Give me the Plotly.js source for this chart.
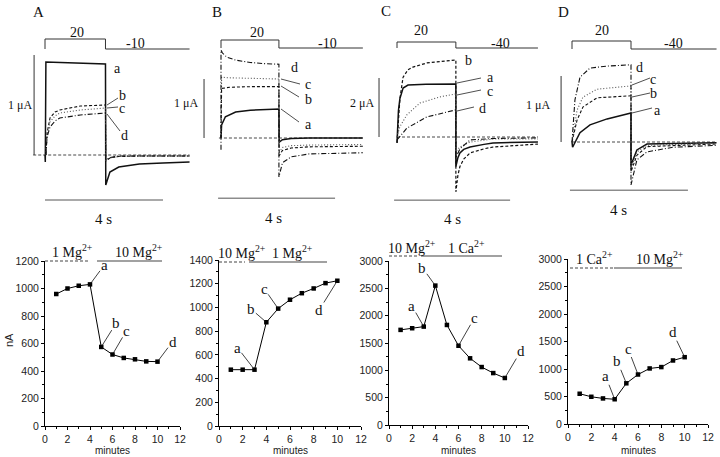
<!DOCTYPE html>
<html>
<head>
<meta charset="utf-8">
<script src="https://cdn.plot.ly/plotly-3.0.1.min.js"></script>
<style>
  html, body { margin: 0; padding: 0; background: #fff; }
  #chart { width: 720px; height: 457px; }
</style>
</head>
<body>
<div id="chart"></div>
<script>
// ---- bottom row: current amplitude (nA) vs time (minutes)
const minutes = [1, 2, 3, 4, 5, 6, 7, 8, 9, 10];
const ampA = [960, 1000, 1020, 1030, 575, 520, 495, 485, 470, 468];
const ampB = [475, 475, 475, 875, 990, 1065, 1120, 1160, 1205, 1225];
const ampC = [1740, 1770, 1800, 2550, 1830, 1450, 1220, 1060, 950, 860];
const ampD = [550, 495, 465, 450, 740, 900, 1010, 1035, 1155, 1215];

// minute at which traces a-d (top row) were taken
const pickA = [4, 5, 6, 10];
const pickB = [3, 4, 5, 10];
const pickC = [3, 4, 6, 10];
const pickD = [4, 5, 6, 10];

// ---- top row: current traces, t in s, I in uA
const A_a_t = [0, 0.01, 0.03, 0.5, 1.0, 1.5, 2.05, 2.06, 2.2, 2.5, 3.2, 4.0, 4.9];
const A_a_i = [0, -0.07, 0.93, 0.925, 0.92, 0.915, 0.91, -0.30, -0.17, -0.12, -0.09, -0.08, -0.07];
const A_bcd_t = [0.03, 0.07, 0.17, 0.34, 0.5, 1.2, 2.05, 2.06, 2.2, 2.5, 3.2, 4.9];
const A_b_i = [0, 0.22, 0.37, 0.43, 0.45, 0.49, 0.50, -0.06, -0.03, -0.015, -0.01, -0.01];
const A_c_i = [0, 0.20, 0.33, 0.39, 0.42, 0.45, 0.47, -0.05, -0.03, -0.015, -0.01, -0.01];
const A_d_i = [0, 0.18, 0.28, 0.34, 0.37, 0.40, 0.42, -0.05, -0.025, -0.01, -0.01, -0.01];

const B_a_t = [0, 0.02, 0.15, 0.5, 1.0, 1.5, 1.98, 1.99, 2.1, 2.4, 3.0, 4.85];
const B_a_i = [0, 0.22, 0.36, 0.44, 0.47, 0.48, 0.49, -0.07, -0.03, -0.01, 0, 0];
const B_bc_t = [0, 0.02, 0.3, 1.0, 1.98, 1.99, 2.1, 2.4, 3.0, 4.85];
const B_b_i = [0, 0.84, 0.86, 0.87, 0.87, -0.30, -0.21, -0.17, -0.15, -0.14];
const B_c_i = [0, 1.03, 1.02, 1.01, 1.00, -0.25, -0.16, -0.13, -0.12, -0.11];
const B_d_t = [0, 0, 0.05, 0.2, 0.5, 1.0, 1.5, 1.98, 1.98, 2.1, 2.4, 3.0, 4.85];
const B_d_i = [-0.2, 1.49, 1.44, 1.37, 1.32, 1.28, 1.26, 1.25, -0.66, -0.42, -0.32, -0.27, -0.25];

const C_a_t = [0, 0.05, 0.1, 0.21, 0.38, 1.0, 2.03, 2.03, 2.1, 2.17, 2.3, 2.52, 3.0, 3.31, 4.86];
const C_a_i = [-0.2, 0.9, 1.3, 1.66, 1.76, 1.79, 1.80, -1.0, -0.7, -0.54, -0.42, -0.34, -0.25, -0.2, -0.17];
const C_b_t = [0, 0.1, 0.21, 0.38, 0.55, 1.03, 2.03, 2.03, 2.1, 2.17, 2.3, 2.52, 3.0, 3.31, 4.86];
const C_b_i = [-0.2, 1.3, 2.03, 2.28, 2.37, 2.51, 2.61, -1.86, -1.3, -1.0, -0.75, -0.54, -0.40, -0.34, -0.24];
const C_c_t = [0, 0.1, 0.34, 0.79, 1.48, 2.03, 2.03, 2.17, 2.52, 3.31, 4.86];
const C_c_i = [0, 0.35, 0.75, 1.15, 1.36, 1.46, -0.5, -0.34, -0.17, -0.07, -0.07];
const C_d_t = [0, 0.34, 1.03, 2.03, 2.03, 2.17, 2.52, 3.31, 4.86];
const C_d_i = [-0.1, 0.3, 0.68, 0.92, -0.7, -0.4, -0.1, -0.05, -0.03];

const D_a_t = [0, 0.02, 0.27, 0.61, 1.19, 2.0, 2.0, 2.2, 2.54, 4.9];
const D_a_i = [0, -0.08, 0.14, 0.26, 0.35, 0.44, -0.35, -0.12, -0.03, -0.01];
const D_bc_t = [0, 0.17, 0.37, 0.85, 2.0, 2.0, 2.2, 2.54, 4.9];
const D_b_i = [0, 0.33, 0.53, 0.67, 0.7, -0.45, -0.2, -0.07, -0.03];
const D_c_i = [0, 0.48, 0.68, 0.8, 0.85, -0.4, -0.15, -0.05, -0.02];
const D_d_t = [0, 0.1, 0.27, 0.61, 1.19, 2.0, 2.0, 2.2, 2.54, 3.42, 4.9];
const D_d_i = [0, 0.64, 0.98, 1.12, 1.15, 1.17, -0.65, -0.27, -0.15, -0.08, -0.05];

// voltage protocols (mV)
const stepMv = 20;
const tailMv = [-10, -10, -40, -40];
const pulseEnd = [2.05, 1.98, 2.03, 2.0];
const sweepEnd = [4.9, 4.85, 4.86, 4.9];
const scaleUa = [1, 1, 2, 1];

const W = 720, H = 457;
const PX = (x) => x / W;
const PY = (y) => 1 - y / H;
const serif = "Liberation Serif, Times New Roman, serif";
const sans = "Liberation Sans, Arial, sans-serif";
const ink = "#111";

const layout = {
  width: W, height: H,
  margin: { l: 0, r: 0, t: 0, b: 0 },
  paper_bgcolor: "#fff",
  plot_bgcolor: "rgba(0,0,0,0)",
  showlegend: false,
  annotations: [],
  shapes: [],
};
const data = [];

const axName = (p, i) => p + "axis" + (i === 1 ? "" : i);
const axRef = (p, i) => p + (i === 1 ? "" : i);

// pixel geometry of each top panel
const topGeo = [
  { box: [10, 192], t0: 45, pxs: 29.5, zero: 155, pxu: 100, vTopPx: 39, vTailPx: 49,
    barT: -0.37, tbar: [0, 4], tbarI: -0.45, zeroFrom: -0.4 },
  { box: [185, 366], t0: 221, pxs: 29.25, zero: 138, pxu: 59, vTopPx: 40, vTailPx: 48,
    barT: -0.58, tbar: [-0.1, 3.9], tbarI: -1.02, zeroFrom: -0.07 },
  { box: [345, 540], t0: 397, pxs: 29, zero: 137, pxu: 29.5, vTopPx: 42, vTailPx: 48,
    barT: -0.62, tbar: [-0.1, 3.9], tbarI: -2.14, zeroFrom: 0 },
  { box: [520, 720], t0: 572, pxs: 29.5, zero: 142, pxu: 66, vTopPx: 41, vTailPx: 49,
    barT: -0.37, tbar: [-0.07, 3.93], tbarI: -0.73, zeroFrom: 0 },
];

const topTraces = [
  [
    { t: A_a_t, i: A_a_i, dash: "solid", w: 1.5, c: ink },
    { t: A_bcd_t, i: A_b_i, dash: "3px,2px", w: 1.1, c: ink },
    { t: A_bcd_t, i: A_c_i, dash: "1px,2px", w: 1.1, c: "#555" },
    { t: A_bcd_t, i: A_d_i, dash: "5px,2px,1px,2px", w: 1.1, c: ink },
  ],
  [
    { t: B_a_t, i: B_a_i, dash: "solid", w: 1.5, c: ink },
    { t: B_bc_t, i: B_b_i, dash: "3px,2px", w: 1.1, c: ink },
    { t: B_bc_t, i: B_c_i, dash: "1px,2px", w: 1.1, c: "#555" },
    { t: B_d_t, i: B_d_i, dash: "5px,2px,1px,2px", w: 1.1, c: ink },
  ],
  [
    { t: C_a_t, i: C_a_i, dash: "solid", w: 1.5, c: ink },
    { t: C_b_t, i: C_b_i, dash: "3px,2px", w: 1.2, c: ink },
    { t: C_c_t, i: C_c_i, dash: "1px,2px", w: 1.1, c: "#555" },
    { t: C_d_t, i: C_d_i, dash: "5px,2px,1px,2px", w: 1.1, c: ink },
  ],
  [
    { t: D_a_t, i: D_a_i, dash: "solid", w: 1.5, c: ink },
    { t: D_bc_t, i: D_b_i, dash: "3px,2px", w: 1.1, c: ink },
    { t: D_bc_t, i: D_c_i, dash: "1px,2px", w: 1.1, c: "#555" },
    { t: D_d_t, i: D_d_i, dash: "5px,2px,1px,2px", w: 1.1, c: ink },
  ],
];

topGeo.forEach((g, k) => {
  const xi = k + 1, yi = k + 1, vi = k + 5;
  const xr = axRef("x", xi), yr = axRef("y", yi), vr = axRef("y", vi);
  const toT = (p) => (p - g.t0) / g.pxs;
  const toI = (p) => (g.zero - p) / g.pxu;
  const toV = (p) => tailMv[k] + (p - g.vTailPx) * (stepMv - tailMv[k]) / (g.vTopPx - g.vTailPx);
  layout[axName("x", xi)] = { domain: [PX(g.box[0]), PX(g.box[1])], range: [toT(g.box[0]), toT(g.box[1])], visible: false, anchor: yr };
  layout[axName("y", yi)] = { domain: [PY(205), PY(45)], range: [toI(205), toI(45)], visible: false, anchor: xr };
  layout[axName("y", vi)] = { domain: [PY(56), PY(28)], range: [toV(56), toV(28)], visible: false, anchor: xr };

  const line = (x, y, ya, color, width, dash) => data.push({
    x, y, xaxis: xr, yaxis: ya, type: "scatter", mode: "lines", hoverinfo: "skip",
    line: { color, width, dash: dash || "solid" },
  });
  // protocol
  line([0, 0, pulseEnd[k], pulseEnd[k], sweepEnd[k]],
       [tailMv[k], stepMv, stepMv, tailMv[k], tailMv[k]], vr, "#333", 1);
  // zero current
  line([g.zeroFrom, sweepEnd[k]], [0, 0], yr, "#333", 0.9, "3px,2px");
  // scale bars
  line([g.barT, g.barT], [0, scaleUa[k]], yr, "#333", 1);
  line(g.tbar, [g.tbarI, g.tbarI], yr, "#555", 1);
  topTraces[k].forEach((tr) => line(tr.t, tr.i, yr, tr.c, tr.w, tr.dash));
});

// ---- bottom panels
const botGeo = [
  { x: [45, 180], y: [261, 426], ymax: 1200, dt: 200, amp: ampA, pick: pickA },
  { x: [219, 361], y: [260, 426], ymax: 1400, dt: 200, amp: ampB, pick: pickB },
  { x: [389, 528], y: [261, 425], ymax: 3000, dt: 500, amp: ampC, pick: pickC },
  { x: [568, 708], y: [259, 424], ymax: 3000, dt: 500, amp: ampD, pick: pickD },
];
// label offsets (px) of a, b, c, d from their points
const labelOff = [
  [[14, -19], [15, -24], [14, -24], [15, -20]],
  [[-17, -22], [-15, -13], [-14, -20], [-18, 29]],
  [[-12, -21], [-13, -18], [16, -28], [16, -27]],
  [[-9, -23], [-9, -22], [-10, -26], [-12, -25]],
];
const tickFont = { family: sans, size: 10.5, color: "#222" };

botGeo.forEach((g, k) => {
  const xi = k + 5, yi = k + 9;
  const xr = axRef("x", xi), yr = axRef("y", yi);
  layout[axName("x", xi)] = {
    domain: [PX(g.x[0]), PX(g.x[1])], range: [0, 12], dtick: 2, anchor: yr,
    showline: true, linecolor: "#000", linewidth: 1, ticks: "outside", ticklen: 3, tickcolor: "#000",
    minor: { ticks: "outside", ticklen: 2, dtick: 1, tickcolor: "#000" },
    showgrid: false, zeroline: false, tickfont: tickFont, fixedrange: true,
  };
  layout[axName("y", yi)] = {
    domain: [PY(g.y[1]), PY(g.y[0])], range: [0, g.ymax], dtick: g.dt, anchor: xr,
    showline: true, linecolor: "#000", linewidth: 1, ticks: "outside", ticklen: 3, tickcolor: "#000",
    minor: { ticks: "outside", ticklen: 2, dtick: g.dt / 2, tickcolor: "#000" },
    showgrid: false, zeroline: false, tickfont: tickFont, fixedrange: true,
  };
  data.push({
    x: minutes, y: g.amp, xaxis: xr, yaxis: yr, type: "scatter", mode: "lines+markers",
    line: { color: "#000", width: 1 }, marker: { symbol: "square", size: 4.5, color: "#000" },
    cliponaxis: false, hoverinfo: "x+y",
  });
  ["a", "b", "c", "d"].forEach((lab, j) => {
    const m = g.pick[j];
    layout.annotations.push({
      xref: xr, yref: yr, x: m, y: g.amp[minutes.indexOf(m)], text: lab,
      showarrow: true, arrowhead: 0, arrowwidth: 0.8, arrowcolor: "#111",
      ax: labelOff[k][j][0], ay: labelOff[k][j][1], standoff: 1, borderpad: 0,
      font: { family: serif, size: 15, color: ink },
    });
  });
  layout.annotations.push({
    xref: "paper", yref: "paper", x: PX((g.x[0] + g.x[1]) / 2), y: PY(450), text: "minutes",
    xanchor: "center", yanchor: "middle",
    showarrow: false, font: { family: sans, size: 10, color: "#222" },
  });
});

layout.annotations.push({
  xref: "paper", yref: "paper", x: PX(9), y: PY(340), text: "nA", textangle: -90,
  xanchor: "center", yanchor: "middle",
  showarrow: false, font: { family: sans, size: 11, color: "#222" },
});

// ---- free text (panel letters, protocol levels, scale bars, trace labels)
const texts = [
  ["A", 38, 12, 15], ["B", 217, 12, 15], ["C", 386, 11, 15], ["D", 563, 12, 15],
  ["20", 77, 32, 14], ["-10", 135, 43, 14], ["20", 257, 32, 14], ["-10", 327, 43, 14],
  ["20", 421, 30, 14], ["-40", 500, 43, 14], ["20", 602, 30, 14], ["-40", 673, 43, 14],
  ["1 μA", 20, 105, 12], ["1 μA", 186, 103, 12], ["2 μA", 362, 103, 12], ["1 μA", 538, 105, 12],
  ["4 s", 104, 219, 15], ["4 s", 273, 218, 15], ["4 s", 452, 219, 15], ["4 s", 618, 210, 15],
  ["a", 117, 69, 14], ["b", 122, 96, 14], ["c", 122, 108, 14], ["d", 124, 135, 14],
  ["d", 294, 67, 14], ["c", 308, 84, 14], ["b", 308, 99, 14], ["a", 308, 124, 14],
  ["b", 468, 60, 14], ["a", 490, 78, 14], ["c", 490, 91, 14], ["d", 483, 108, 14],
  ["d", 639, 68, 14], ["c", 653, 79, 14], ["b", 653, 93, 14], ["a", 657, 110, 14],
  ["1 Mg<sup>2+</sup>", 72, 251, 14], ["10 Mg<sup>2+</sup>", 139, 251, 14],
  ["10 Mg<sup>2+</sup>", 242, 252, 14], ["1 Mg<sup>2+</sup>", 292, 252, 14],
  ["10 Mg<sup>2+</sup>", 412, 247, 14], ["1 Ca<sup>2+</sup>", 466, 247, 14],
  ["1 Ca<sup>2+</sup>", 594, 258, 14], ["10 Mg<sup>2+</sup>", 660, 258, 14],
];
texts.forEach(([text, x, y, size]) => layout.annotations.push({
  xref: "paper", yref: "paper", x: PX(x), y: PY(y), text, showarrow: false,
  xanchor: "center", yanchor: "middle", borderpad: 0, font: { family: serif, size, color: ink },
}));

// leader lines to the top-row traces, and solution bars over the time courses
const seg = (x0, y0, x1, y1, color, width, dash) => layout.shapes.push({
  type: "line", xref: "paper", yref: "paper", x0: PX(x0), y0: PY(y0), x1: PX(x1), y1: PY(y1),
  line: { color, width, dash: dash || "solid" },
});
[
  [107, 105, 118, 98], [107, 108, 118, 107], [107, 114, 120, 131],
  [281, 79, 300, 84], [281, 86, 299, 97], [281, 109, 299, 122],
  [457, 83, 481, 78], [457, 95, 481, 90], [457, 111, 474, 107],
  [632, 85, 650, 78], [632, 97, 650, 93], [632, 113, 652, 108],
].forEach((s) => seg(s[0], s[1], s[2], s[3], "#222", 0.8));
[
  [45, 90, 97, 162, 261], [219, 245, 249, 327, 262],
  [389, 418, 421, 502, 256], [570, 614, 614, 682, 268],
].forEach(([d0, d1, s0, s1, y]) => {
  seg(d0, y, d1, y, "#444", 1, "3px,2px");
  seg(s0, y, s1, y, "#444", 1.2);
});

Plotly.newPlot("chart", data, layout, { staticPlot: true, displayModeBar: false });
</script>
</body>
</html>
